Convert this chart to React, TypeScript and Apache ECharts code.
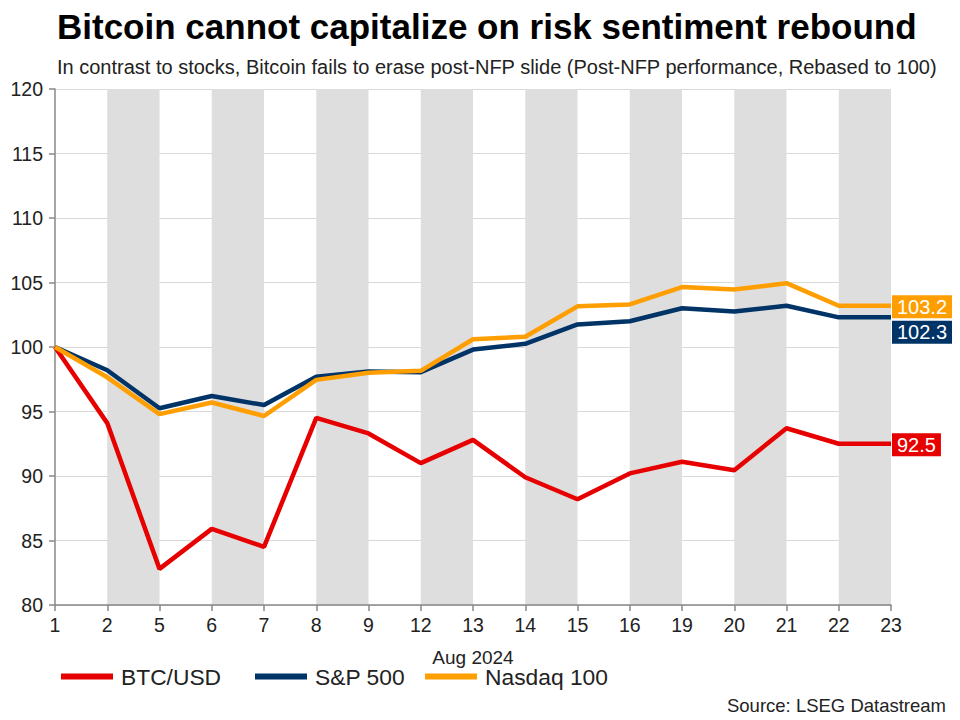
import React, { useEffect, useRef } from "react";
import * as echarts from "echarts";

const categories = ["1", "2", "5", "6", "7", "8", "9", "12", "13", "14", "15", "16", "19", "20", "21", "22", "23"];
const btcUsd = [100, 94.1, 82.8, 85.9, 84.5, 94.5, 93.3, 91.0, 92.8, 89.9, 88.2, 90.2, 91.1, 90.45, 93.7, 92.5, 92.5];
const sp500 = [100, 98.2, 95.25, 96.2, 95.5, 97.7, 98.1, 98.05, 99.8, 100.25, 101.75, 102.0, 103.0, 102.75, 103.2, 102.3, 102.3];
const nasdaq100 = [100, 97.65, 94.8, 95.7, 94.65, 97.45, 98.0, 98.15, 100.6, 100.8, 103.15, 103.3, 104.65, 104.45, 104.95, 103.2, 103.2];
const seriesNames = ["BTC/USD", "S&P 500", "Nasdaq 100"];
const yTicks = { min: 80, max: 120, interval: 5 };

const RED = "#e60000";
const NAVY = "#003366";
const ORANGE = "#ff9e00";
const FONT = "Liberation Sans, Arial, sans-serif";

export default function App() {
  const ref = useRef<HTMLDivElement>(null);
  useEffect(() => {
    if (!ref.current) return;
    const chart = echarts.init(ref.current, undefined, { renderer: "svg" });
    const endLabel = (color: string, offset: number[]) => ({
      show: true,
      formatter: (p: any) => Number(p.value).toFixed(1),
      backgroundColor: color,
      color: "#fff",
      fontFamily: FONT,
      fontSize: 20,
      padding: [2, 5, 1, 5],
      distance: 1,
      offset,
    });
    const legendLefts = [56, 250, 420];
    const legend = seriesNames.map((name, i) => ({
      left: legendLefts[i],
      top: 660,
      icon: "rect",
      itemWidth: 52,
      itemHeight: 6,
      textStyle: { fontFamily: FONT, fontSize: 22.8, color: "#222", padding: [0, 0, 0, 3] },
      data: [name],
    }));
    chart.setOption({
      animation: false,
      textStyle: { fontFamily: FONT },
      title: [
        {
          text: "Bitcoin cannot capitalize on risk sentiment rebound",
          left: 52,
          top: 4,
          textStyle: { fontFamily: FONT, fontSize: 35, fontWeight: "bold", color: "#000" },
        },
        {
          text: "In contrast to stocks, Bitcoin fails to erase post-NFP slide (Post-NFP performance, Rebased to 100)",
          left: 52,
          top: 52,
          textStyle: { fontFamily: FONT, fontSize: 20, fontWeight: "normal", color: "#222" },
        },
      ],
      legend,
      grid: { left: 55, right: 69, top: 89, bottom: 115, containLabel: false },
      xAxis: {
        type: "category",
        data: categories,
        boundaryGap: false,
        name: "Aug 2024",
        nameLocation: "middle",
        nameGap: 43,
        nameTextStyle: { fontFamily: FONT, fontSize: 19, color: "#222" },
        axisLine: { show: true, lineStyle: { color: "#888", width: 1.5 } },
        axisTick: { show: true, length: 6, interval: 0, lineStyle: { color: "#888", width: 1.5 } },
        axisLabel: { interval: 0, fontFamily: FONT, fontSize: 19.5, color: "#222", margin: 10 },
        splitLine: { show: false },
        splitArea: { show: true, interval: 0, areaStyle: { color: ["rgba(255,255,255,0)", "#dedede"] } },
      },
      yAxis: {
        type: "value",
        min: yTicks.min,
        max: yTicks.max,
        interval: yTicks.interval,
        axisLine: { show: true, lineStyle: { color: "#888", width: 1.5 } },
        axisTick: { show: true, length: 6, lineStyle: { color: "#888", width: 1.5 } },
        axisLabel: { fontFamily: FONT, fontSize: 19.5, color: "#222", margin: 12 },
        splitLine: { show: true, lineStyle: { color: "#d9d9d9", width: 1 } },
      },
      series: [
        {
          name: seriesNames[0],
          type: "line",
          data: btcUsd,
          symbol: "none",
          color: RED,
          lineStyle: { width: 4.5, color: RED },
          endLabel: endLabel(RED, [0, 1]),
          z: 4,
        },
        {
          name: seriesNames[1],
          type: "line",
          data: sp500,
          symbol: "none",
          color: NAVY,
          lineStyle: { width: 4.5, color: NAVY },
          endLabel: endLabel(NAVY, [0, 15]),
          z: 3,
        },
        {
          name: seriesNames[2],
          type: "line",
          data: nasdaq100,
          symbol: "none",
          color: ORANGE,
          lineStyle: { width: 4.5, color: ORANGE },
          endLabel: endLabel(ORANGE, [0, 1]),
          z: 5,
        },
      ],
      graphic: [
        {
          type: "text",
          right: 14,
          top: 696,
          style: { text: "Source: LSEG Datastream", fontFamily: FONT, fontSize: 18.5, fill: "#222" },
        },
      ],
    });
    return () => chart.dispose();
  }, []);
  return <div ref={ref} style={{ width: 960, height: 720, margin: -8 }} />;
}
